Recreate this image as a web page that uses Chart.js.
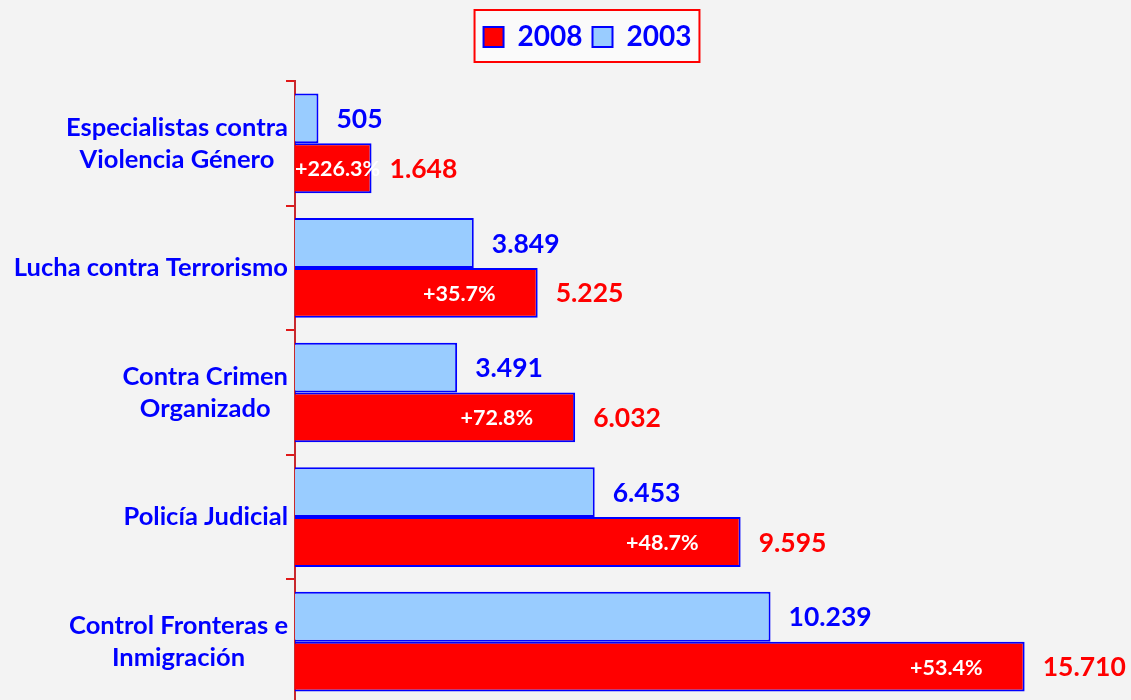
<!DOCTYPE html>
<html>
<head>
<meta charset="utf-8">
<script src="https://cdn.jsdelivr.net/npm/chart.js@4/dist/chart.umd.min.js"></script>
<style>
  html, body { margin: 0; padding: 0; background: #f3f3f3; overflow: hidden; }
  #wrap { width: 1131px; height: 704px; position: relative; }
</style>
</head>
<body>
<div id="wrap"><canvas id="c"></canvas></div>
<script>
// ---- data ----
const categories = [
  ["Especialistas contra", "Violencia Género"],
  ["Lucha contra Terrorismo"],
  ["Contra Crimen", "Organizado"],
  ["Policía Judicial"],
  ["Control Fronteras e", "Inmigración"]
];
const seriesNames = ["2003", "2008"];
const values2003 = [505, 3849, 3491, 6453, 10239];
const values2008 = [1648, 5225, 6032, 9595, 15710];
const growthLabels = ["+226.3%", "+35.7%", "+72.8%", "+48.7%", "+53.4%"];

const FONT = "Lato, 'Open Sans', sans-serif";
const BLUE = "#0000ff";
const RED = "#ff0000";

function fmt(v) {
  return String(v).replace(/\B(?=(\d{3})+(?!\d))/g, ".");
}

const bgPlugin = {
  id: "bg",
  beforeDraw(chart) {
    const ctx = chart.ctx;
    ctx.save();
    ctx.fillStyle = "#f3f3f3";
    ctx.fillRect(0, 0, chart.width, chart.height);
    const lg = chart.legend;
    if (lg && lg.legendHitBoxes && lg.legendHitBoxes.length) {
      const hb = lg.legendHitBoxes;
      const l = Math.min(...hb.map(h => h.left)) - 9;
      const r = Math.max(...hb.map(h => h.left + h.width)) + 8;
      const t = hb[0].top - 13;
      const b = hb[0].top + hb[0].height + 11;
      ctx.fillStyle = "#fafafa";
      ctx.fillRect(l, t, r - l, b - t);
      chart.$legendRect = {l, r, t, b};
    }
    ctx.restore();
  },
  afterDraw(chart) {
    const ctx = chart.ctx;
    const rc = chart.$legendRect;
    if (rc) {
      ctx.save();
      ctx.strokeStyle = RED;
      ctx.lineWidth = 2;
      ctx.strokeRect(rc.l, rc.t, rc.r - rc.l, rc.b - rc.t);
      ctx.restore();
    }
  }
};

const legendGap = {
  id: "legendGap",
  afterInit(chart) {
    const lg = chart.legend;
    const orig = lg.fit;
    lg.fit = function () { orig.call(this); this.height += 20; };
  }
};

const labelsPlugin = {
  id: "labels",
  afterDatasetsDraw(chart) {
    const ctx = chart.ctx;
    const ys = chart.scales.y;
    const xs = chart.scales.x;
    ctx.save();
    // category labels
    ctx.font = "bold 25.5px " + FONT;
    ctx.fillStyle = BLUE;
    ctx.textAlign = "center";
    ctx.textBaseline = "middle";
    categories.forEach((lines, i) => {
      const yc = ys.getPixelForValue(i);
      const lh = 32;
      const maxW = Math.max(...lines.map(s => ctx.measureText(s).width));
      const cx = ys.right - 7 - maxW / 2;
      lines.forEach((s, k) => {
        ctx.fillText(s, cx, yc + (k - (lines.length - 1) / 2) * lh);
      });
    });
    // value labels
    ctx.font = "bold 26.5px " + FONT;
    ctx.textAlign = "left";
    chart.data.datasets.forEach((ds, di) => {
      const meta = chart.getDatasetMeta(di);
      ctx.fillStyle = di === 0 ? BLUE : RED;
      meta.data.forEach((bar, i) => {
        ctx.fillText(fmt(ds.data[i]), bar.x + 18, bar.y + 1);
      });
    });
    // growth labels inside 2008 bars
    ctx.font = "bold 21.5px " + FONT;
    ctx.fillStyle = "#ffffff";
    const meta = chart.getDatasetMeta(1);
    meta.data.forEach((bar, i) => {
      const w = ctx.measureText(growthLabels[i]).width;
      let left = bar.x - 42 - w;
      if (left < xs.left) left = xs.left;
      ctx.fillText(growthLabels[i], left, bar.y + 1);
    });
    ctx.restore();
  }
};

new Chart(document.getElementById("c"), {
  type: "bar",
  data: {
    labels: categories,
    datasets: [
      {
        label: seriesNames[0],
        data: values2003,
        backgroundColor: "#99ccff",
        borderColor: BLUE,
        borderWidth: 2,
        categoryPercentage: 0.8,
        barPercentage: 1.0
      },
      {
        label: seriesNames[1],
        data: values2008,
        backgroundColor: RED,
        borderColor: BLUE,
        borderWidth: 2,
        categoryPercentage: 0.8,
        barPercentage: 1.0
      }
    ]
  },
  options: {
    indexAxis: "y",
    responsive: true,
    maintainAspectRatio: false,
    animation: false,
    layout: { padding: { top: 13, left: 44, right: 0, bottom: 0 } },
    scales: {
      x: { display: false, min: 0, max: 18000 },
      y: {
        afterFit(scale) { scale.width = 251; },
        ticks: { display: false },
        grid: {
          offset: true,
          drawOnChartArea: false,
          drawTicks: true,
          tickLength: 9,
          color: "#e01818",
          lineWidth: 2
        },
        border: { display: true, color: "#c8282d", width: 2 }
      }
    },
    plugins: {
      tooltip: { enabled: false },
      legend: {
        position: "top",
        reverse: true,
        labels: {
          boxWidth: 20,
          boxHeight: 20,
          padding: 10,
          color: BLUE,
          font: { family: FONT, size: 28, weight: "bold" }
        }
      }
    }
  },
  plugins: [bgPlugin, legendGap, labelsPlugin]
});
</script>
</body>
</html>
